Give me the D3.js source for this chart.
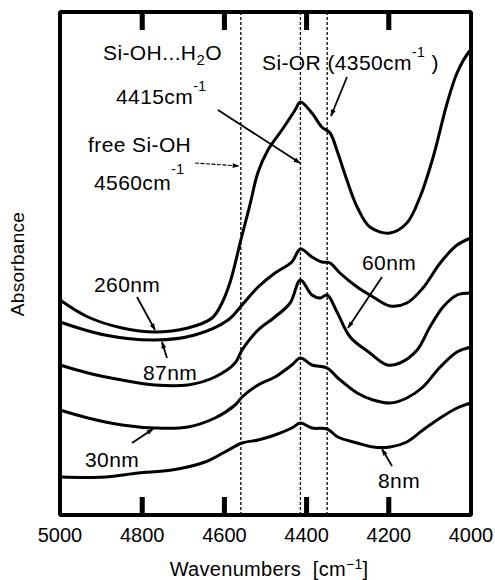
<!DOCTYPE html>
<html>
<head>
<meta charset="utf-8">
<script src="https://cdn.jsdelivr.net/npm/d3@7"></script>
<style>
  html, body { margin: 0; padding: 0; background: #fff; }
  svg { display: block; }
  text { font-family: "Liberation Sans", Arial, Helvetica, sans-serif; fill: #000; }
</style>
</head>
<body>
<svg id="chart" width="495" height="580"></svg>
<script>
// ---- data (wavenumber in cm^-1, absorbance in arbitrary units) ----
const xTicks = [5000, 4800, 4600, 4400, 4200, 4000];
const innerTicks = [4800, 4600, 4400, 4200];
const markerLines = [4560, 4415, 4350];

const wn260  = [5000, 4932, 4849, 4769, 4689, 4630, 4606, 4586, 4560, 4538, 4518, 4494, 4460, 4428, 4415, 4387, 4363, 4343, 4324, 4302, 4277, 4246, 4197, 4156, 4124, 4092, 4058, 4034, 4007, 4000];
const abs260 = [2.15, 1.98, 1.87, 1.83, 1.87, 1.97, 2.12, 2.33, 2.75, 3.10, 3.43, 3.65, 3.85, 4.05, 4.13, 4.02, 3.88, 3.82, 3.62, 3.35, 3.08, 2.88, 2.82, 2.92, 3.18, 3.58, 4.12, 4.42, 4.62, 4.65];

const wn87  = [5000, 4891, 4769, 4672, 4591, 4557, 4518, 4477, 4436, 4415, 4387, 4363, 4343, 4319, 4277, 4238, 4197, 4156, 4117, 4075, 4034, 4000];
const abs87 = [1.93, 1.80, 1.75, 1.80, 1.95, 2.10, 2.28, 2.42, 2.53, 2.66, 2.58, 2.53, 2.52, 2.42, 2.28, 2.18, 2.09, 2.12, 2.27, 2.52, 2.70, 2.77];

const wn60  = [5000, 4932, 4849, 4769, 4689, 4623, 4574, 4557, 4518, 4477, 4440, 4415, 4387, 4367, 4350, 4326, 4294, 4246, 4204, 4173, 4131, 4100, 4068, 4034, 4000];
const abs60 = [1.50, 1.42, 1.35, 1.30, 1.30, 1.38, 1.52, 1.65, 1.85, 1.98, 2.12, 2.35, 2.20, 2.17, 2.20, 2.03, 1.78, 1.62, 1.50, 1.52, 1.65, 1.88, 2.08, 2.20, 2.22];

const wn30  = [5000, 4932, 4849, 4769, 4689, 4623, 4574, 4557, 4518, 4477, 4436, 4415, 4387, 4350, 4324, 4277, 4238, 4197, 4156, 4117, 4075, 4034, 4000];
const abs30 = [1.05, 0.97, 0.90, 0.87, 0.88, 0.97, 1.10, 1.18, 1.30, 1.38, 1.50, 1.57, 1.50, 1.47, 1.37, 1.22, 1.15, 1.12, 1.17, 1.28, 1.48, 1.63, 1.68];

const wn8  = [5000, 4891, 4810, 4728, 4647, 4599, 4557, 4518, 4477, 4436, 4415, 4387, 4350, 4324, 4277, 4238, 4197, 4156, 4117, 4075, 4034, 4000];
const abs8 = [0.38, 0.38, 0.42, 0.45, 0.53, 0.63, 0.72, 0.75, 0.80, 0.87, 0.92, 0.87, 0.86, 0.78, 0.72, 0.68, 0.68, 0.73, 0.85, 0.97, 1.07, 1.12];

const seriesNames = ["260nm", "87nm", "60nm", "30nm", "8nm"];
const seriesWn  = [wn260, wn87, wn60, wn30, wn8];
const seriesAbs = [abs260, abs87, abs60, abs30, abs8];

// ---- layout ----
const svg = d3.select("#chart");
const plot = { left: 60, right: 471, top: 12, bottom: 515 };

const x = d3.scaleLinear().domain([5000, 4000]).range([plot.left, plot.right]);
const y = d3.scaleLinear().domain([0, 5.03]).range([plot.bottom, plot.top]);

// arrow marker
const defs = svg.append("defs");
defs.append("marker")
  .attr("id", "ah").attr("viewBox", "0 0 10 10").attr("refX", 9).attr("refY", 5)
  .attr("markerWidth", 9).attr("markerHeight", 7).attr("markerUnits", "userSpaceOnUse")
  .attr("orient", "auto")
  .append("path").attr("d", "M0,1.5 L10,5 L0,8.5 Z").attr("fill", "#000");

// dashed marker lines
svg.append("g").selectAll("line").data(markerLines).join("line")
  .attr("x1", d => x(d)).attr("x2", d => x(d))
  .attr("y1", plot.top).attr("y2", plot.bottom)
  .attr("stroke", "#000").attr("stroke-width", 1.3)
  .attr("stroke-dasharray", "3,2");

// curves
const lineGen = d3.line()
  .x(d => x(d[0])).y(d => y(d[1]))
  .curve(d3.curveCatmullRom.alpha(0.5));

svg.append("g").selectAll("path").data(seriesWn.map((w, i) => w.map((v, j) => [v, seriesAbs[i][j]])))
  .join("path")
  .attr("d", lineGen)
  .attr("fill", "none").attr("stroke", "#000").attr("stroke-width", 3)
  .attr("stroke-linejoin", "round").attr("stroke-linecap", "round");

// frame with inward ticks included in the same outline path
const tickLen = 18;
const fp = d3.path();
fp.moveTo(plot.left, plot.top);
innerTicks.slice().reverse().forEach(d => {
  // walk along the top edge, dipping down for each tick
  fp.lineTo(x(d), plot.top);
  fp.lineTo(x(d), plot.top + tickLen);
  fp.lineTo(x(d), plot.top);
});
fp.lineTo(plot.right, plot.top);
fp.lineTo(plot.right, plot.bottom);
innerTicks.slice().reverse().reverse().slice().sort((a, b) => a - b).forEach(d => {
  // walk along the bottom edge from right to left, rising for each tick
  fp.lineTo(x(d), plot.bottom);
  fp.lineTo(x(d), plot.bottom - tickLen);
  fp.lineTo(x(d), plot.bottom);
});
fp.lineTo(plot.left, plot.bottom);
fp.closePath();
svg.append("path").attr("d", fp.toString())
  .attr("fill", "none").attr("stroke", "#000").attr("stroke-width", 4)
  .attr("stroke-linejoin", "miter").attr("stroke-miterlimit", 1);

// tick labels (positioned by the x scale)
svg.append("g").selectAll("text").data(xTicks).join("text")
  .attr("x", d => x(d)).attr("y", plot.bottom + 27)
  .attr("text-anchor", "middle").attr("font-size", 20)
  .text(d3.format("d"));

// axis titles
const xt = svg.append("text").attr("x", 269).attr("y", 576).attr("text-anchor", "middle")
  .attr("font-size", 20).attr("letter-spacing", 0.3);
xt.append("tspan").text("Wavenumbers\u00a0\u00a0[cm");
xt.append("tspan").attr("dy", -7).attr("font-size", 14).text("\u22121");
xt.append("tspan").attr("dy", 7).text("]");

svg.append("text")
  .attr("transform", "translate(24,264) rotate(-90)")
  .attr("text-anchor", "middle").attr("font-size", 19).attr("letter-spacing", 0.3).text("Absorbance");

// annotations
const fs = 21;
const ls = 0.4;
function sup(t, base, s, dyUp) {
  t.append("tspan").text(base);
  t.append("tspan").attr("dy", -dyUp).attr("font-size", 14).text(s);
}
const a1 = svg.append("text").attr("x", 103).attr("y", 60).attr("font-size", fs).attr("letter-spacing", ls);
a1.append("tspan").text("Si-OH...H");
a1.append("tspan").attr("dy", 5).attr("font-size", 15).text("2");
a1.append("tspan").attr("dy", -5).text("O");

const a2 = svg.append("text").attr("x", 116).attr("y", 104).attr("font-size", fs).attr("letter-spacing", ls);
sup(a2, "4415cm", "-1", 13);

svg.append("text").attr("x", 88).attr("y", 152).attr("font-size", fs).attr("letter-spacing", ls).text("free Si-OH");
const a4 = svg.append("text").attr("x", 94).attr("y", 190).attr("font-size", fs).attr("letter-spacing", ls);
sup(a4, "4560cm", "-1", 16);

const a5 = svg.append("text").attr("x", 262).attr("y", 70).attr("font-size", fs).attr("letter-spacing", ls);
a5.append("tspan").text("Si-OR (4350cm");
a5.append("tspan").attr("dy", -13).attr("font-size", 14).text("-1");
a5.append("tspan").attr("dy", 13).text("\u00a0)");

const labels = [
  { t: "260nm", x: 94, y: 292 },
  { t: "87nm", x: 143, y: 380 },
  { t: "60nm", x: 362, y: 270 },
  { t: "30nm", x: 85, y: 467 },
  { t: "8nm", x: 378, y: 488 }
];
svg.append("g").selectAll("text").data(labels).join("text")
  .attr("x", d => d.x).attr("y", d => d.y).attr("font-size", fs).attr("letter-spacing", ls).text(d => d.t);

// arrows
const arrows = [
  { x1: 218, y1: 110, x2: 300, y2: 163, w: 1.8 },
  { x1: 195, y1: 163, x2: 239, y2: 166, w: 1.2, dash: "4,1.5" },
  { x1: 347, y1: 77, x2: 331, y2: 116, w: 1.8 },
  { x1: 137, y1: 297, x2: 155, y2: 330, w: 1.8 },
  { x1: 167, y1: 358, x2: 162, y2: 342, w: 1.8 },
  { x1: 382, y1: 277, x2: 348, y2: 328, w: 1.8 },
  { x1: 132, y1: 443, x2: 153, y2: 429, w: 1.8 },
  { x1: 392, y1: 466, x2: 382, y2: 449, w: 1.8 }
];
svg.append("g").selectAll("line").data(arrows).join("line")
  .attr("x1", d => d.x1).attr("y1", d => d.y1).attr("x2", d => d.x2).attr("y2", d => d.y2)
  .attr("stroke", "#000").attr("stroke-width", d => d.w)
  .attr("stroke-dasharray", d => d.dash || null)
  .attr("marker-end", "url(#ah)");

// extra-weight tick bars on top of everything
const tickW = 5;
const tp = d3.path();
innerTicks.forEach(d => {
  const cx = x(d);
  tp.rect(cx - tickW / 2, plot.bottom - tickLen, tickW, tickLen + 2);
  tp.rect(cx - tickW / 2, plot.top - 2, tickW, tickLen + 2);
});
svg.append("path").attr("d", tp.toString()).attr("fill", "#000").attr("stroke", "none");
</script>
</body>
</html>
